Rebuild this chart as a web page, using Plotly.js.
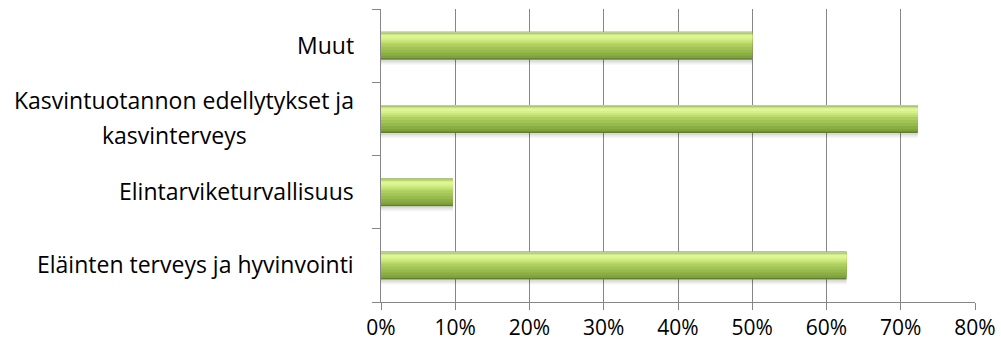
<!DOCTYPE html>
<html>
<head>
<meta charset="utf-8">
<script src="https://cdn.plot.ly/plotly-3.0.1.min.js"></script>
<style>
  html, body { margin: 0; padding: 0; background: #ffffff; }
  #chart { width: 1001px; height: 342px; }
</style>
</head>
<body>
<div id="chart"></div>
<script>
// Categories listed bottom-to-top (as drawn on the category axis)
const categories = [
  "Eläinten terveys ja hyvinvointi",
  "Elintarviketurvallisuus",
  "Kasvintuotannon edellytykset ja<br>kasvinterveys",
  "Muut"
];
const shares = [0.627, 0.097, 0.723, 0.50];
const xTickValues = [0, 0.1, 0.2, 0.3, 0.4, 0.5, 0.6, 0.7, 0.8];
const xTickLabels = ["0%", "10%", "20%", "30%", "40%", "50%", "60%", "70%", "80%"];

// ---- styling (not data) ----
const plotTop = 9, plotBottom = 302;
const pxPerCat = (plotBottom - plotTop) / 4;
const barPx = 28;
// bands for a bevelled look: [fromPx, toPx] measured from bar bottom, colour
const bands = [
  [-5, 0, 'rgba(0,0,0,0.04)'],
  [-3.5, 0, 'rgba(0,0,0,0.05)'],
  [-2, 0, 'rgba(0,0,0,0.06)'],
  [0, 28, '#5F7F2A'],
  [1.5, 27, '#7FA23B'],
  [4, 26.8, '#8BAE44'],
  [7, 26.6, '#97BA4D'],
  [10, 26.4, '#A2C456'],
  [13, 26.2, '#AECF60'],
  [16, 26, '#BDDC6E'],
  [18, 25.5, '#CBE77C'],
  [20, 25, '#D6F08A'],
  [22, 24.5, '#DFF695'],
  [26.5, 28, '#BCCF98']
];

const traces = bands.map(function (b) {
  return {
    type: 'bar',
    orientation: 'h',
    y: categories,
    x: shares,
    width: (b[1] - b[0]) / pxPerCat,
    offset: (b[0] - barPx / 2) / pxPerCat,
    marker: { color: b[2], line: { width: 0 } },
    hoverinfo: 'skip',
    showlegend: false
  };
});

const fontFam = '"Open Sans", sans-serif';
const labelSize = 23;
const tickSize = 21;
const lineGap = 35;
const annotations = [];
categories.forEach(function (c) {
  const lines = c.split('<br>');
  const n = lines.length;
  lines.forEach(function (ln, k) {
    const a = {
      xref: 'paper', yref: 'y',
      x: 0, y: c,
      text: ln,
      showarrow: false,
      font: { family: fontFam, size: labelSize, color: '#000000' },
      xanchor: 'right', yanchor: 'middle',
      xshift: -25,
      yshift: 1 + ((n - 1) / 2 - k) * lineGap
    };
    if (k > 0) { a.xanchor = 'center'; a.xshift = -207; }
    annotations.push(a);
  });
});

const gridCol = '#868686';
const layout = {
  width: 1001, height: 342,
  margin: { l: 381, r: 26, t: plotTop, b: 342 - plotBottom, pad: 0 },
  paper_bgcolor: '#ffffff', plot_bgcolor: '#ffffff',
  barmode: 'overlay',
  showlegend: false,
  font: { family: fontFam, size: tickSize, color: '#000000' },
  xaxis: {
    range: [0, 0.8],
    tickvals: xTickValues,
    ticktext: xTickLabels,
    showgrid: true, gridcolor: gridCol, gridwidth: 1,
    zeroline: false,
    showline: true, linecolor: gridCol, linewidth: 1,
    ticks: 'outside', ticklen: 7, tickcolor: gridCol, tickwidth: 1,
    ticklabelstandoff: 0,
    tickfont: { family: fontFam, size: tickSize, color: '#000000' },
    fixedrange: true
  },
  yaxis: {
    type: 'category',
    range: [-0.5, 3.5],
    showgrid: false, zeroline: false,
    showline: true, linecolor: gridCol, linewidth: 1,
    ticks: 'outside', tickson: 'boundaries', ticklen: 8, tickcolor: gridCol, tickwidth: 1,
    showticklabels: false,
    fixedrange: true
  },
  annotations: annotations
};

Plotly.newPlot('chart', traces, layout, { displayModeBar: false, staticPlot: true });
</script>
</body>
</html>
